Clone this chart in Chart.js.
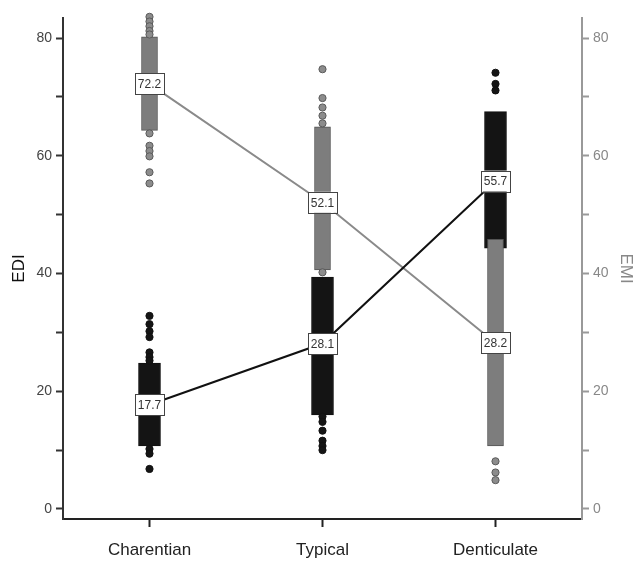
<!DOCTYPE html>
<html>
<head>
<meta charset="utf-8">
<script src="https://cdn.jsdelivr.net/npm/chart.js@4.4.0/dist/chart.umd.min.js"></script>
<style>
  html, body { margin: 0; padding: 0; background: #fff; }
  #wrap { width: 633px; height: 561px; }
</style>
</head>
<body>
<div id="wrap"><canvas id="boxChart"></canvas></div>
<script>
const categories = ['Charentian', 'Typical', 'Denticulate'];

// EDI (left axis, black)
const ediBoxLow = [10.7, 16.0, 44.3];
const ediBoxHigh = [24.8, 39.4, 67.5];
const ediMean = [17.7, 28.1, 55.7];
const ediOutCharentian = [32.8, 31.4, 30.2, 29.2, 26.6, 25.8, 25.2, 10.2, 9.4, 6.8];
const ediOutTypical = [15.7, 14.8, 13.3, 11.6, 10.7, 10.0];
const ediOutDenticulate = [74.1, 72.2, 71.1];

// EMI (right axis, grey)
const emiBoxLow = [64.3, 40.6, 10.7];
const emiBoxHigh = [80.2, 64.9, 45.8];
const emiMean = [72.2, 52.1, 28.2];
const emiOutCharentian = [83.6, 82.8, 82.0, 81.2, 80.6, 63.8, 61.7, 60.8, 59.9, 57.2, 55.3];
const emiOutTypical = [74.7, 69.8, 68.2, 66.8, 65.5, 40.2];
const emiOutDenticulate = [8.1, 6.2, 4.9];

const yMin = -1.7, yMax = 83.4;

function outPoints(lists) {
  const pts = [];
  lists.forEach(function(list, i) {
    list.forEach(function(v) { pts.push({x: categories[i], y: v}); });
  });
  return pts;
}

const FONT = "'Liberation Sans', Arial, sans-serif";

const meanLabels = {
  id: 'meanLabels',
  afterDatasetsDraw(chart) {
    const ctx = chart.ctx;
    chart.data.datasets.forEach(function(ds, i) {
      if (!ds.isMean) return;
      const meta = chart.getDatasetMeta(i);
      meta.data.forEach(function(pt, j) {
        const w = 29, h = 21;
        ctx.save();
        ctx.fillStyle = '#fff';
        ctx.strokeStyle = '#444';
        ctx.lineWidth = 1;
        ctx.fillRect(pt.x - w / 2, pt.y - h / 2, w, h);
        ctx.strokeRect(Math.round(pt.x - w / 2) + 0.5, Math.round(pt.y - h / 2) + 0.5, w, h);
        ctx.fillStyle = '#333';
        ctx.font = '12px ' + FONT;
        ctx.textAlign = 'center';
        ctx.textBaseline = 'middle';
        ctx.fillText(ds.data[j].toFixed(1), pt.x, pt.y + 1);
        ctx.restore();
      });
    });
  }
};

new Chart(document.getElementById('boxChart').getContext('2d'), {
  type: 'bar',
  data: {
    labels: categories,
    datasets: [
      {
        type: 'line', isMean: true, label: 'EDI mean', data: ediMean, yAxisID: 'y',
        borderColor: '#111', borderWidth: 2, pointRadius: 0, fill: false, order: 1
      },
      {
        type: 'line', isMean: true, label: 'EMI mean', data: emiMean, yAxisID: 'y2',
        borderColor: '#8a8a8a', borderWidth: 2, pointRadius: 0, fill: false, order: 2
      },
      {
        type: 'line', showLine: false, label: 'EMI outliers', yAxisID: 'y2',
        data: outPoints([emiOutCharentian, emiOutTypical, emiOutDenticulate]),
        pointRadius: 3.6, pointBackgroundColor: '#8c8c8c', pointBorderColor: '#5a5a5a',
        pointBorderWidth: 1, clip: false, order: 3
      },
      {
        type: 'line', showLine: false, label: 'EDI outliers', yAxisID: 'y',
        data: outPoints([ediOutCharentian, ediOutTypical, ediOutDenticulate]),
        pointRadius: 3.6, pointBackgroundColor: '#151515', pointBorderColor: '#111',
        pointBorderWidth: 1, clip: false, order: 4
      },
      {
        label: 'EMI', yAxisID: 'y2', grouped: false, barThickness: 16,
        data: emiBoxLow.map(function(v, i) { return [v, emiBoxHigh[i]]; }),
        backgroundColor: '#7d7d7d', borderColor: '#555', borderWidth: 1,
        borderSkipped: false, order: 5
      },
      {
        label: 'EDI', yAxisID: 'y', grouped: false, barThickness: 22,
        data: ediBoxLow.map(function(v, i) { return [v, ediBoxHigh[i]]; }),
        backgroundColor: '#141414', borderColor: '#111', borderWidth: 1,
        borderSkipped: false, order: 6
      }
    ]
  },
  options: {
    responsive: true,
    maintainAspectRatio: false,
    animation: false,
    layout: { padding: { top: 18, left: 0, right: 0, bottom: 0 } },
    plugins: { legend: { display: false }, tooltip: { enabled: false } },
    scales: {
      x: {
        offset: true,
        afterFit: function(s) { s.height = 42; },
        border: { color: '#222', width: 2 },
        grid: { offset: false, drawOnChartArea: false, tickLength: 8, color: '#222', tickWidth: 2 },
        ticks: { color: '#222', padding: 13, font: { family: FONT, size: 17 } }
      },
      y: {
        position: 'left', min: yMin, max: yMax,
        afterFit: function(s) { s.width = 63; },
        border: { color: '#333', width: 2 },
        grid: { drawOnChartArea: false, tickLength: 7, color: '#333', tickWidth: 2 },
        ticks: {
          stepSize: 10, includeBounds: false, autoSkip: false, padding: 4,
          color: '#444', font: { family: FONT, size: 14 },
          callback: function(v) { return v % 20 === 0 ? v : ''; }
        },
        title: {
          display: true, text: 'EDI', color: '#111',
          font: { family: FONT, size: 17, lineHeight: 1 }, padding: { top: 10.5, bottom: 0 }
        }
      },
      y2: {
        position: 'right', min: yMin, max: yMax,
        afterFit: function(s) { s.width = 51; },
        border: { color: '#999', width: 2 },
        grid: { drawOnChartArea: false, tickLength: 7, color: '#999', tickWidth: 2 },
        ticks: {
          stepSize: 10, includeBounds: false, autoSkip: false, padding: 4,
          color: '#888', font: { family: FONT, size: 14 },
          callback: function(v) { return v % 20 === 0 ? v : ''; }
        },
        title: {
          display: true, text: 'EMI', color: '#888',
          font: { family: FONT, size: 17, lineHeight: 1 }, padding: { top: -1, bottom: 0 }
        }
      }
    }
  },
  plugins: [meanLabels]
});
</script>
</body>
</html>
